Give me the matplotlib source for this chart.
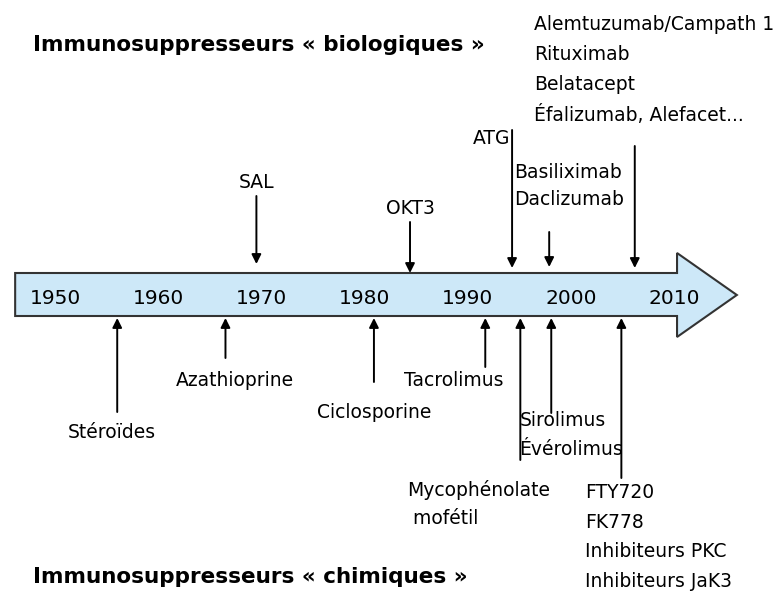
import matplotlib.pyplot as plt
from matplotlib.patches import Polygon

# timeline data
tick_years = [1950, 1960, 1970, 1980, 1990, 2000, 2010]

# "biologiques" (above the timeline)
bio_labels = ["SAL", "OKT3", "ATG",
              "Basiliximab\nDaclizumab",
              "Alemtuzumab/Campath 1\nRituximab\nBelatacept\nÉfalizumab, Alefacet..."]
bio_years = [1969.5, 1984.4, 1994.3, 1997.9, 2006.2]

# "chimiques" (below the timeline)
chem_labels = ["Stéroïdes", "Azathioprine", "Ciclosporine", "Tacrolimus",
               "Mycophénolate\n mofétil", "Sirolimus\nÉvérolimus",
               "FTY720\nFK778\nInhibiteurs PKC\nInhibiteurs JaK3"]
chem_years = [1956.0, 1966.5, 1980.9, 1991.7, 1995.1, 1998.1, 2004.9]

fig = plt.figure(figsize=(7.79, 5.91), dpi=100)
ax = fig.add_axes([0, 0, 1, 1])
ax.set_xlim(1944.63, 2020.19)
ax.set_ylim(591, 0)
ax.axis('off')

fs = 13.5
# big arrow
arrow_pts = [(1946.1, 273), (2010.3, 273), (2010.3, 253), (2016.1, 295),
             (2010.3, 337), (2010.3, 316), (1946.1, 316)]
ax.add_patch(Polygon(arrow_pts, closed=True, facecolor='#cde8f8',
                     edgecolor='#333333', lw=1.5, zorder=1))
for yr in tick_years:
    ax.text(yr, 298, str(yr), ha='center', va='center', fontsize=14.5, zorder=3)

arrow_kw = dict(arrowstyle='-|>', color='black', lw=1.4, mutation_scale=14,
                shrinkA=0, shrinkB=0)

# arrows from above: (start y, tip y)
bio_arrows = [(196, 264), (222, 273), (130, 268), (232, 267), (146, 268)]
for yr, (y0, y1) in zip(bio_years, bio_arrows):
    ax.annotate('', xy=(yr, y1), xytext=(yr, y0), arrowprops=arrow_kw, zorder=4)

# arrows from below
chem_arrows = [412, 358, 382, 367, 460, 413, 478]
for yr, y0 in zip(chem_years, chem_arrows):
    ax.annotate('', xy=(yr, 318), xytext=(yr, y0), arrowprops=arrow_kw, zorder=4)

# labels for biological agents
ax.text(bio_years[0], 183, bio_labels[0], ha='center', va='center', fontsize=fs)
ax.text(bio_years[1], 208, bio_labels[1], ha='center', va='center', fontsize=fs)
ax.text(bio_years[2] - 0.2, 138, bio_labels[2], ha='right', va='center', fontsize=fs)
ax.text(bio_years[3] - 3.4, 186, bio_labels[3], ha='left', va='center',
        fontsize=fs, linespacing=1.5)
ax.text(bio_years[4] - 9.8, 70, bio_labels[4], ha='left', va='center',
        fontsize=fs, linespacing=1.73)

# labels for chemical agents
ax.text(chem_years[0] - 0.5, 433, chem_labels[0], ha='center', va='center', fontsize=fs)
ax.text(chem_years[1] + 0.9, 380, chem_labels[1], ha='center', va='center', fontsize=fs)
ax.text(chem_years[2], 412, chem_labels[2], ha='center', va='center', fontsize=fs)
ax.text(chem_years[3] - 3.1, 380, chem_labels[3], ha='center', va='center', fontsize=fs)
ax.text(chem_years[4] - 11.0, 504, chem_labels[4], ha='left', va='center',
        fontsize=fs, linespacing=1.65)
ax.text(chem_years[5] - 3.1, 435, chem_labels[5], ha='left', va='center',
        fontsize=fs, linespacing=1.65)
ax.text(chem_years[6] - 3.5, 537, chem_labels[6], ha='left', va='center',
        fontsize=fs, linespacing=1.7)

ax.text(1947.8, 45, "Immunosuppresseurs « biologiques »", ha='left', va='center',
        fontsize=15.5, fontweight='bold')
ax.text(1947.8, 577, "Immunosuppresseurs « chimiques »", ha='left', va='center',
        fontsize=15.5, fontweight='bold')

fig.savefig('out.png', dpi=100)
